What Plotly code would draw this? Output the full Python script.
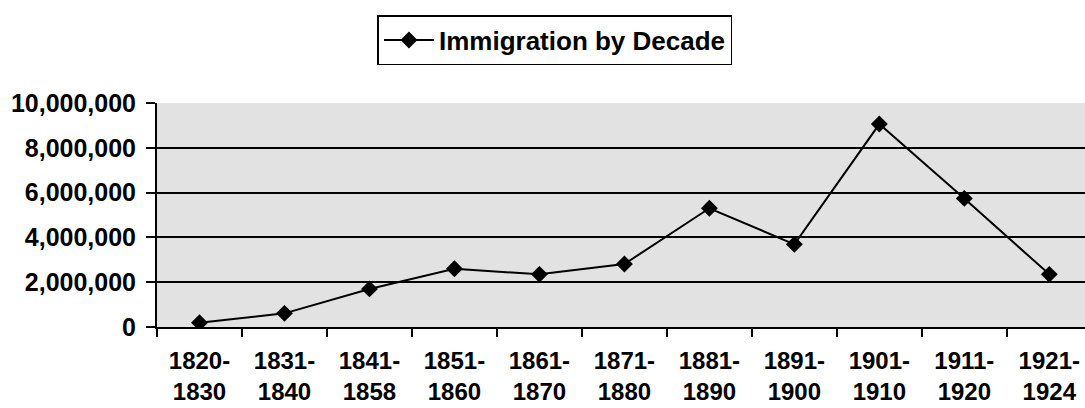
import plotly.graph_objects as go

periods = ["1820-<br>1830", "1831-<br>1840", "1841-<br>1858", "1851-<br>1860", "1861-<br>1870",
           "1871-<br>1880", "1881-<br>1890", "1891-<br>1900", "1901-<br>1910", "1911-<br>1920",
           "1921-<br>1924"]
immigrants = [190000, 610000, 1700000, 2600000, 2350000, 2810000, 5300000, 3690000, 9060000, 5740000, 2350000]
y_ticks = [0, 2000000, 4000000, 6000000, 8000000, 10000000]
y_tick_text = ["0", "2,000,000", "4,000,000", "6,000,000", "8,000,000", "10,000,000"]

FONT = "Liberation Sans, Arial, sans-serif"

fig = go.Figure()
fig.add_trace(go.Scatter(
    x=periods, y=immigrants, mode="lines+markers", name="Immigration by Decade",
    line=dict(color="black", width=2),
    marker=dict(symbol="diamond", size=13, color="black"),
))

fig.update_layout(
    width=1085, height=408,
    margin=dict(l=157, r=0, t=103, b=81, autoexpand=False),
    paper_bgcolor="white",
    plot_bgcolor="#e2e2e2",
    font=dict(family=FONT, size=23, color="black"),
    showlegend=True,
    legend=dict(
        xref="container", yref="container",
        x=0.5115, y=0.963, xanchor="center", yanchor="top",
        orientation="h", itemwidth=50,
        bordercolor="black", borderwidth=1.5, bgcolor="white",
        font=dict(family=FONT, size=26, color="black", weight="bold"),
    ),
    xaxis=dict(
        type="category",
        range=[-0.5, 10.42],
        tickson="boundaries",
        ticks="outside", ticklen=8, tickwidth=1.5, tickcolor="black",
        showline=True, linecolor="black", linewidth=2,
        showgrid=False, zeroline=False, automargin=False,
        tickfont=dict(family=FONT, size=24, color="black", weight="bold"),
        ticklabelstandoff=11,
    ),
    yaxis=dict(
        range=[0, 10000000],
        tickvals=y_ticks, ticktext=y_tick_text,
        ticks="outside", ticklen=9, tickwidth=1.5, tickcolor="black",
        showline=True, linecolor="black", linewidth=2,
        showgrid=True, gridcolor="black", gridwidth=2,
        zeroline=False, automargin=False,
        tickfont=dict(family=FONT, size=25, color="black", weight="bold"),
        ticklabelstandoff=5,
    ),
)

fig.write_html("out.html", config={"displayModeBar": False},
               post_script="document.body.style.margin='0px';document.body.style.overflow='hidden';")
